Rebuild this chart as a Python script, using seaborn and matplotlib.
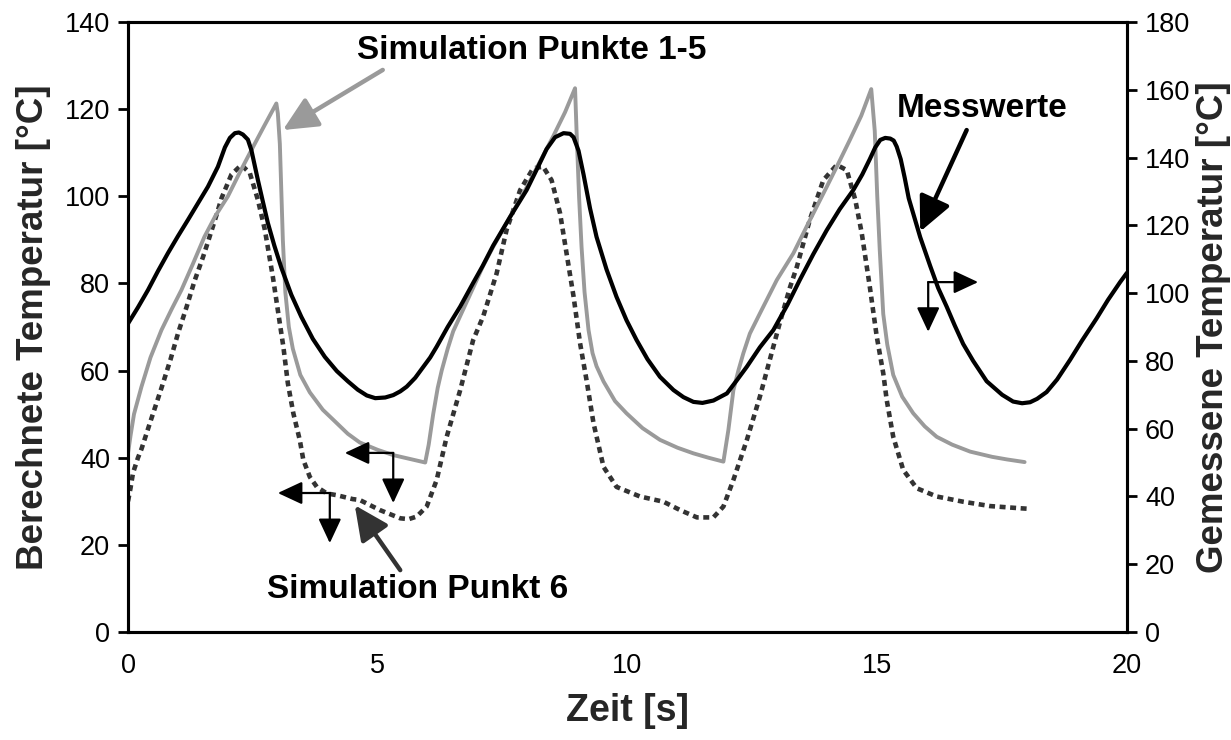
import matplotlib
matplotlib.use("Agg")
import matplotlib.pyplot as plt
from matplotlib.ticker import MultipleLocator
import seaborn as sns
import pandas as pd

# --- Simulation Punkte 1-5 (left axis, °C) ---
t_sim15 = [0.0, 0.05, 0.12, 0.27, 0.45, 0.67, 0.87, 1.07, 1.3, 1.53, 1.75, 2.0, 2.23, 2.47, 2.72, 2.97,
           3.0, 3.04, 3.1, 3.15, 3.22, 3.3, 3.45, 3.64, 3.9, 4.11, 4.4, 4.64, 5.0, 5.31, 5.65, 5.95,
           6.02, 6.11, 6.2, 6.28, 6.4, 6.51, 6.65, 6.91, 7.1, 7.31, 7.65, 7.98, 8.25, 8.51, 8.75, 8.95,
           8.98, 9.03, 9.08, 9.14, 9.22, 9.3, 9.38, 9.52, 9.75, 9.98, 10.3, 10.65, 11.0, 11.32, 11.62, 11.92,
           12.02, 12.12, 12.22, 12.32, 12.45, 12.65, 12.99, 13.32, 13.65, 13.99, 14.22, 14.45, 14.68, 14.88,
           14.95, 15.0, 15.05, 15.12, 15.2, 15.32, 15.5, 15.72, 15.95, 16.19, 16.5, 16.86, 17.3, 17.6, 17.95]
y_sim15 = [41.0, 45.0, 50.0, 56.3, 63.0, 69.3, 74.0, 78.5, 84.5, 90.7, 95.5, 100.0, 105.3, 110.6, 116.0, 121.3,
           119.0, 112.0, 90.0, 78.0, 70.0, 65.0, 59.0, 55.0, 51.0, 48.7, 45.5, 43.5, 41.8, 40.6, 39.7, 38.9,
           43.0, 50.0, 56.0, 60.0, 65.0, 69.0, 72.5, 79.0, 83.8, 88.4, 95.3, 102.0, 108.0, 113.7, 119.3, 124.8,
           115.0, 100.0, 88.4, 78.0, 69.3, 64.0, 61.0, 57.5, 53.0, 50.2, 46.8, 44.1, 42.3, 41.0, 40.0, 39.1,
           46.4, 55.5, 60.0, 64.0, 68.5, 73.1, 80.8, 86.9, 94.5, 102.2, 107.5, 112.9, 118.5, 124.6,
           115.0, 100.0, 87.7, 73.0, 66.0, 59.0, 54.0, 50.2, 47.2, 44.8, 43.0, 41.4, 40.2, 39.6, 39.0]

# --- Simulation Punkt 6 (left axis, °C) ---
t_sim6 = [0.0, 0.05, 0.1, 0.2, 0.27, 0.44, 0.67, 0.85, 1.0, 1.17, 1.33, 1.5, 1.6, 1.78, 1.87, 2.07, 2.27,
          2.44, 2.6, 2.74, 2.9, 3.04, 3.11, 3.2, 3.31, 3.44, 3.51, 3.64, 3.78, 3.98, 4.18, 4.5, 4.64,
          5.04, 5.45, 5.62, 5.78, 5.98, 6.18, 6.38, 6.65, 6.91, 7.11, 7.38, 7.58, 7.85, 8.11, 8.31,
          8.48, 8.65, 8.78, 8.92, 9.05, 9.18, 9.32, 9.52, 9.78, 10.25, 10.72, 11.05, 11.39, 11.72,
          11.92, 12.12, 12.39, 12.65, 12.92, 13.05, 13.25, 13.39, 13.65, 13.92, 14.19, 14.39,
          14.56, 14.69, 14.85, 14.99, 15.12, 15.19, 15.32, 15.52, 15.79, 16.19, 16.72, 17.26, 17.86, 18.0]
y_sim6 = [30.0, 33.0, 36.5, 40.0, 42.0, 48.0, 56.0, 62.5, 68.5, 74.5, 80.5, 86.0, 89.5, 96.0, 99.5, 105.0, 107.2,
          105.3, 99.2, 92.3, 81.5, 70.8, 65.5, 57.1, 50.2, 44.0, 39.5, 35.6, 33.3, 31.8, 31.4, 30.5, 30.3,
          28.0, 26.1, 25.9, 26.5, 28.8, 34.9, 44.8, 55.5, 67.0, 72.4, 82.3, 92.3, 101.4, 106.4, 106.8,
          103.7, 96.1, 86.9, 77.0, 66.3, 57.8, 47.9, 37.9, 33.3, 31.1, 29.9, 28.0, 26.3, 26.3,
          28.8, 34.9, 44.1, 54.0, 65.5, 71.0, 79.0, 83.8, 94.6, 103.7, 107.2, 106.0,
          99.2, 91.5, 79.3, 67.8, 59.4, 53.2, 44.8, 37.2, 33.0, 31.1, 29.9, 28.9, 28.4, 28.3]

# --- Messwerte (right axis, °C) ---
t_mess = [0.0, 0.2, 0.4, 0.6, 0.8, 1.0, 1.2, 1.4, 1.6, 1.8, 1.94, 2.04, 2.14, 2.22, 2.3, 2.4, 2.47, 2.6,
          2.7, 2.8, 2.93, 3.07, 3.27, 3.47, 3.7, 3.94, 4.18, 4.4, 4.6, 4.78, 4.95, 5.15, 5.31, 5.45, 5.58,
          5.75, 5.9, 6.05, 6.18, 6.4, 6.65, 6.91, 7.1, 7.31, 7.65, 7.98, 8.2, 8.38, 8.55, 8.72, 8.85, 8.92,
          9.02, 9.12, 9.25, 9.38, 9.58, 9.78, 9.98, 10.18, 10.4, 10.65, 10.92, 11.12, 11.32, 11.5, 11.72,
          11.99, 12.2, 12.39, 12.65, 12.92, 13.2, 13.45, 13.72, 13.99, 14.25, 14.52, 14.7, 14.85, 14.96,
          15.06, 15.16, 15.26, 15.33, 15.39, 15.47, 15.55, 15.63, 15.72, 15.86, 16.06, 16.22, 16.39, 16.55,
          16.72, 16.92, 17.19, 17.5, 17.72, 17.9, 18.06, 18.2, 18.39, 18.6, 18.86, 19.1, 19.39, 19.62,
          19.86, 20.0]
y_mess = [91.0, 95.8, 100.9, 106.5, 111.8, 116.8, 121.6, 126.5, 131.4, 137.3, 143.0, 145.8, 147.2, 147.4,
          146.8, 145.3, 142.2, 133.4, 127.0, 120.7, 114.0, 107.5, 99.5, 93.0, 86.5, 81.2, 77.0, 74.0, 71.5,
          69.8, 69.0, 69.2, 69.9, 71.0, 72.4, 75.0, 78.0, 81.0, 84.2, 90.0, 96.0, 103.0, 108.0, 114.0,
          122.5, 130.4, 137.0, 142.5, 146.0, 147.2, 147.0, 146.0, 142.0, 135.0, 125.0, 116.6, 107.0, 98.9,
          92.0, 86.2, 80.5, 75.3, 71.4, 69.3, 67.9, 67.6, 68.3, 70.4, 74.5, 78.3, 84.0, 89.1, 96.5, 103.9,
          111.5, 118.6, 124.8, 130.4, 135.0, 139.5, 143.0, 145.2, 145.8, 145.6, 145.0, 143.2, 139.5, 134.0,
          128.0, 123.5, 116.5, 108.0, 101.5, 96.0, 90.5, 85.0, 80.0, 74.0, 70.0, 68.0, 67.5, 67.8, 68.8,
          70.8, 74.5, 80.3, 86.0, 92.5, 98.0, 103.2, 106.0]

x_ticks = [0, 5, 10, 15, 20]
left_ticks = [0, 20, 40, 60, 80, 100, 120, 140]
right_ticks = [0, 20, 40, 60, 80, 100, 120, 140, 160, 180]

sns.set_theme(style="white")
plt.rcParams["font.family"] = ["Liberation Sans", "DejaVu Sans"]

GRAY = "#9a9a9a"
DARK = "#333333"

fig = plt.figure(figsize=(12.31, 7.40), dpi=100)
ax = fig.add_axes([128 / 1231, 1 - 632 / 740, (1127 - 128) / 1231, (632 - 22) / 740])
ax2 = ax.twinx()

df15 = pd.DataFrame({"t": t_sim15, "T": y_sim15})
df6 = pd.DataFrame({"t": t_sim6, "T": y_sim6})
dfm = pd.DataFrame({"t": t_mess, "T": y_mess})

sns.lineplot(data=df6, x="t", y="T", ax=ax, color=DARK, lw=3.3,
             linestyle=(0, (1.3, 1.0)), dash_capstyle="butt", zorder=2)
sns.lineplot(data=df15, x="t", y="T", ax=ax, color=GRAY, lw=2.8, zorder=3)
sns.lineplot(data=dfm, x="t", y="T", ax=ax2, color="black", lw=3.0, zorder=4)

ax.set_xlim(0, 20)
ax.set_ylim(0, 140)
ax2.set_ylim(0, 180)
ax.set_xticks(x_ticks)
ax.xaxis.set_minor_locator(MultipleLocator(2.5))
ax.set_yticks(left_ticks)
ax2.set_yticks(right_ticks)

for a in (ax, ax2):
    for s in a.spines.values():
        s.set_color("black")
        s.set_linewidth(2.2)
    a.tick_params(axis="both", which="both", direction="out", length=7, width=2.0,
                  colors="black", labelsize=19.5)
    a.grid(False)
ax.tick_params(axis="x", which="major", pad=8)
ax.tick_params(axis="x", which="minor", length=7, width=2.0)
ax.tick_params(axis="y", left=True, right=False, pad=6)
ax2.tick_params(axis="y", right=True, left=False, pad=6)

ax.set_xlabel("Zeit [s]", fontsize=27, fontweight="bold", labelpad=10)
ax.set_ylabel("Berechnete Temperatur [°C]", fontsize=26.5, fontweight="bold", labelpad=10)
ax2.set_ylabel("Gemessene Temperatur [°C]", fontsize=26.5, fontweight="bold", labelpad=4)

# Series labels with pointer arrows
bold = dict(fontsize=24, fontweight="bold", color="black")
ax.text(8.09, 131.5, "Simulation Punkte 1-5", ha="center", va="baseline", **bold)
ax.text(17.09, 118.3, "Messwerte", ha="center", va="baseline", **bold)
ax.text(5.79, 7.7, "Simulation Punkt 6", ha="center", va="baseline", **bold)

def pointer(xy, xytext, color):
    ax.annotate("", xy=xy, xytext=xytext, xycoords="data", textcoords="data",
                arrowprops=dict(arrowstyle="-|>,head_length=0.95,head_width=0.45",
                                color=color, lw=3.2, mutation_scale=22,
                                shrinkA=0, shrinkB=0), zorder=6)

pointer((3.1, 115.2), (5.1, 129.0), GRAY)
pointer((15.86, 91.9), (16.79, 115.2), "black")
pointer((4.54, 29.1), (5.45, 14.2), DARK)

# Axis indicator arrows (which axis each curve belongs to)
def axis_arrow(x0, y0, x1, y1):
    ax.annotate("", xy=(x1, y1), xytext=(x0, y0), xycoords="data", textcoords="data",
                arrowprops=dict(arrowstyle="-|>,head_length=0.75,head_width=0.35",
                                color="black", lw=1.6, mutation_scale=20,
                                shrinkA=0, shrinkB=0), zorder=6)

axis_arrow(5.31, 41.1, 4.34, 41.1)
axis_arrow(5.31, 41.1, 5.31, 29.6)
axis_arrow(4.04, 31.9, 3.0, 31.9)
axis_arrow(4.04, 31.9, 4.04, 20.4)
axis_arrow(16.02, 80.3, 17.02, 80.3)
axis_arrow(16.02, 80.3, 16.02, 68.9)

fig.savefig("out.png", dpi=100, facecolor="white")
